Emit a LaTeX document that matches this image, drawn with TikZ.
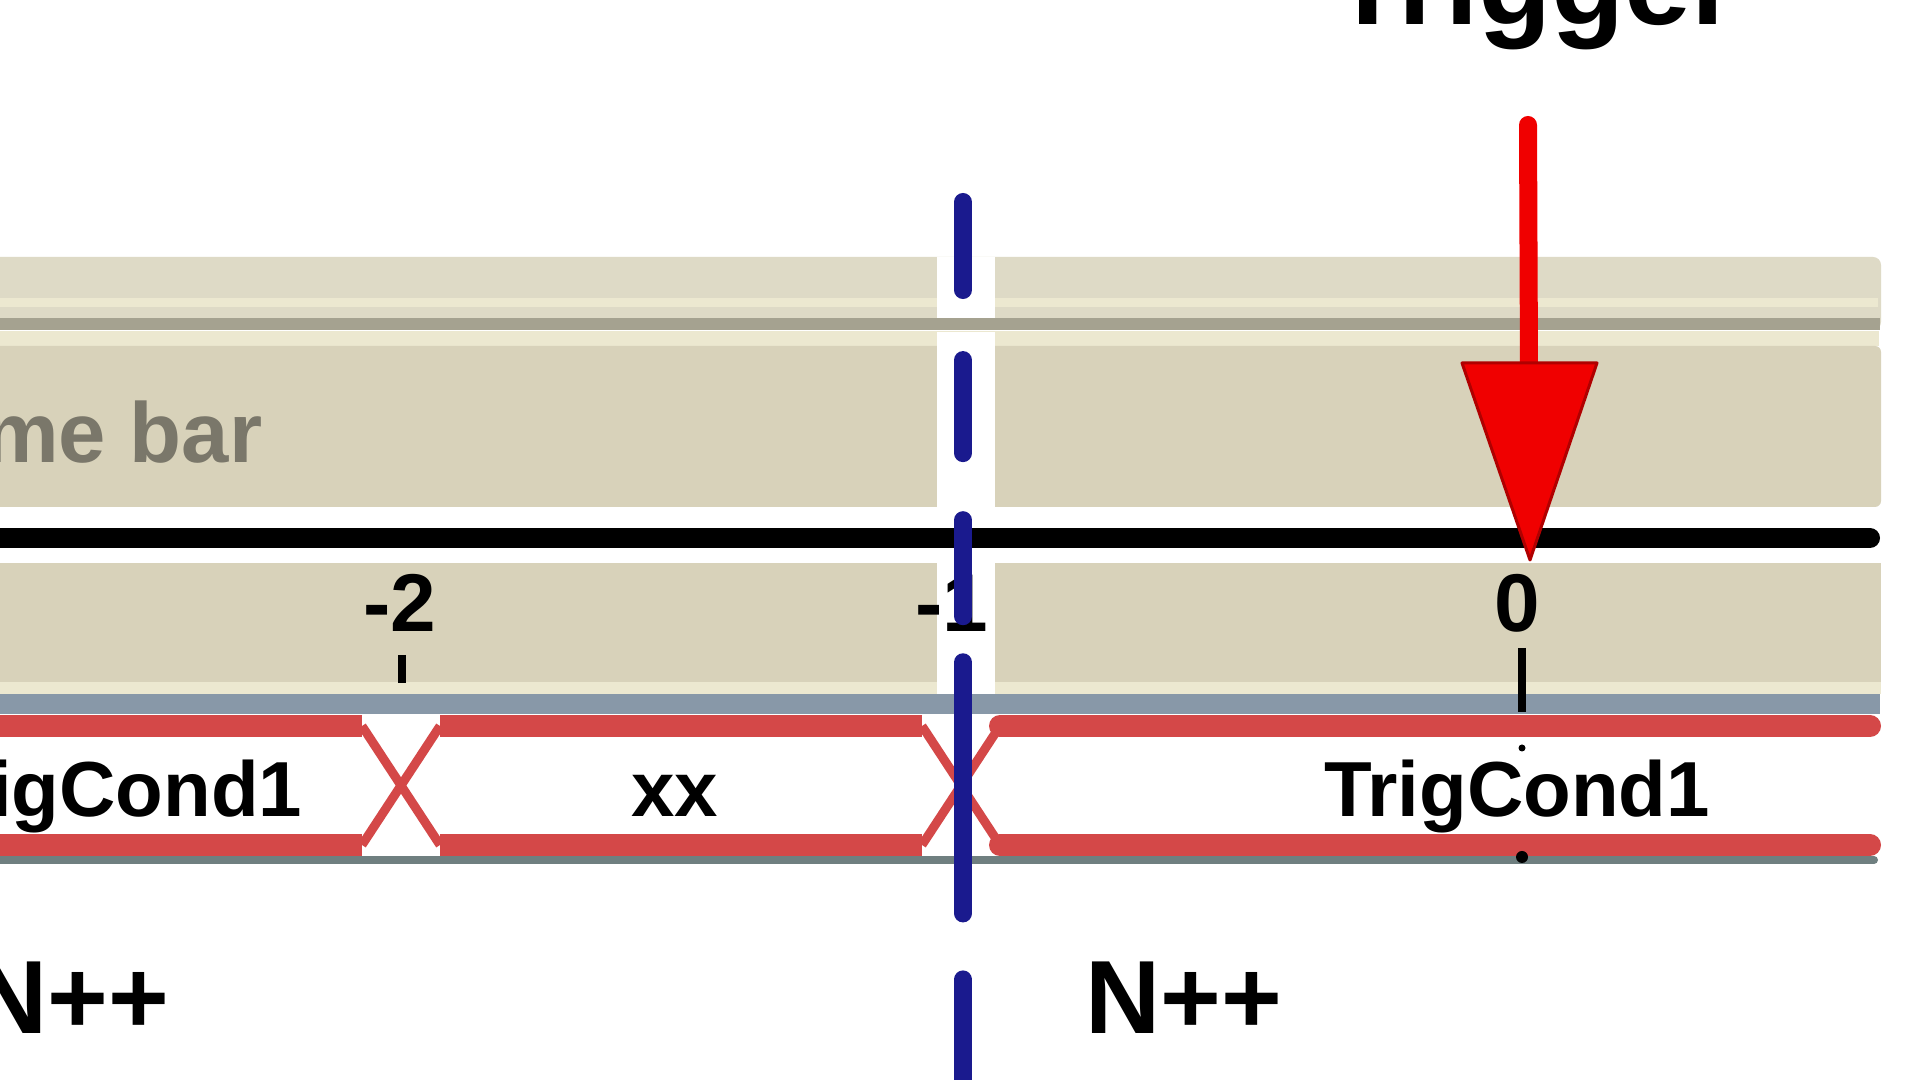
\documentclass[tikz,border=0pt]{standalone}
\usepackage{fontspec}
\setmainfont{Liberation Sans}
\usetikzlibrary{arrows.meta}
\definecolor{beigemain}{HTML}{D8D2BA}
\definecolor{beigetop}{HTML}{DEDAC6}
\definecolor{beigehi}{HTML}{ECE8D0}
\definecolor{graybar}{HTML}{A5A290}
\definecolor{bluegray}{HTML}{8898A8}
\definecolor{busred}{HTML}{D44848}
\definecolor{busgray}{HTML}{6F7F80}
\definecolor{cutnavy}{HTML}{1A1A8E}
\definecolor{labelgray}{HTML}{7A776A}
\definecolor{trigred}{HTML}{F00000}
\definecolor{trigdark}{HTML}{B00000}
\tikzset{
  lbl/.style={inner sep=0pt, font=\bfseries\fontsize{23.3pt}{26pt}\selectfont, anchor=base},
  sigtxt/.style={inner sep=0pt, font=\bfseries\fontsize{22.2pt}{25pt}\selectfont, anchor=base},
  itertxt/.style={inner sep=0pt, font=\bfseries\fontsize{29.6pt}{32pt}\selectfont, anchor=base west},
  busline/.style={busred, line width=0.22cm},
  busdiag/.style={busred, line width=0.09cm},
  tickmark/.style={black, line width=0.08cm}
}
\begin{document}
\begin{tikzpicture}[x=0.01cm,y=-0.01cm]
\useasboundingbox (0,0) rectangle (1920,1080);
\clip (0,0) rectangle (1920,1080);
\fill[white] (0,0) rectangle (1920,1080);

% upper panel
\fill[beigetop, rounded corners=0.08cm] (-50,257) rectangle (1881,330);
\fill[beigehi] (-50,298) rectangle (1878,307);
\fill[graybar] (-50,318) rectangle (1880,330);
\fill[beigehi] (-50,331) rectangle (1879,346);
\fill[beigemain, rounded corners=0.06cm] (-50,346) rectangle (1881,507);
% lower panel
\fill[beigemain] (-50,563) rectangle (1881,682);
\fill[beigehi] (-50,682) rectangle (1881,694);
\fill[bluegray] (-50,694) rectangle (1880,714);
% white halo around the cut line
\fill[white] (937,257) rectangle (995,318);
\fill[white] (937,332) rectangle (995,507);
\fill[white] (937,563) rectangle (995,694);

% time bar label
\node[inner sep=0pt, anchor=base east, text=labelgray,
      font=\bfseries\fontsize{24.2pt}{27pt}\selectfont] (timebar) at (263,463) {Time bar};

% black time axis
\draw[black, line width=0.2cm, line cap=round] (-50,538) -- (1870,538);

% tick labels and ticks
\node[lbl] (lm2) at (400,632) {-2};
\node[lbl] (lm1) at (952,632) {-1};
\node[lbl] (l0) at (1517,632) {0};
\draw[tickmark] (402,655) -- (402,683);
\draw[tickmark] (1522,648) -- (1522,712);

% bus signal
\draw[busgray, line width=0.08cm, line cap=round] (-50,860) -- (1874,860);
\draw[busline] (-50,726) -- (362,726);
\draw[busline] (440,726) -- (922,726);
\draw[busline, line cap=round] (1000,726) -- (1870,726);
\draw[busline] (-50,845) -- (362,845);
\draw[busline] (440,845) -- (922,845);
\draw[busline, line cap=round] (1000,845) -- (1870,845);
\draw[busdiag] (362,726) -- (440,845);
\draw[busdiag] (362,845) -- (440,726);
\draw[busdiag] (922,726) -- (1000,845);
\draw[busdiag] (922,845) -- (1000,726);

\node[sigtxt, anchor=base east] (s1) at (303,817) {TrigCond1};
\node[sigtxt] (s2) at (675,817) {xx};
\node[sigtxt] (s3) at (1517,817) {TrigCond1};
\fill[black] (1522,857) circle (0.06cm);
\fill[black] (1522,748) circle (0.035cm);

% iteration labels
\node[itertxt, anchor=base east] (nl) at (170,1034) {N++};
\node[itertxt] (nr) at (1085,1034) {N++};

% cut line (blue dashed)
\coordinate (cuttop) at (963,202);
\coordinate (cutbot) at (963,1100);
\draw[cutnavy, line width=0.18cm, line cap=round,
      dash pattern=on 0.88cm off 0.70cm on 0.93cm off 0.67cm on 0.96cm off 0.46cm on 2.51cm off 0.66cm on 3cm off 1cm]
      (cuttop) -- (cutbot);

% trigger
\node[inner sep=0pt, anchor=base, font=\bfseries\fontsize{34.1pt}{38pt}\selectfont] (trig) at (1535,25) {Trigger};
\coordinate (trigtop) at (1528,125);
\coordinate (trigbase) at (1529,366);
\coordinate (trigtip) at (1530,560);
\draw[trigred, line width=0.18cm, line cap=round] (trigtop) -- (trigbase);
\filldraw[fill=trigred, draw=trigdark, line width=0.03cm, line join=round]
  (1462,363) -- (1597,363) -- (trigtip) -- cycle;
\end{tikzpicture}
\end{document}
